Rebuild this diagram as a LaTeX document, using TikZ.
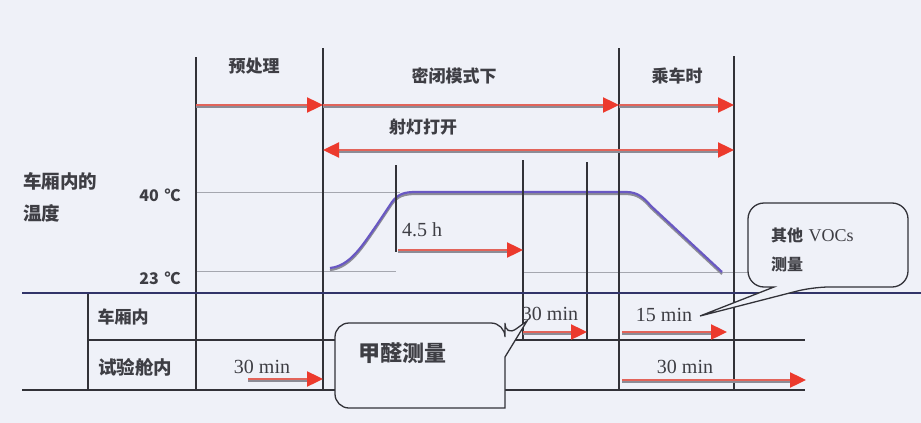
\documentclass[tikz,border=0pt]{standalone}
\usepackage{fontspec}
\newfontfamily\cjk{Noto Sans CJK SC}
\newfontfamily\tnr{Liberation Serif}
\usetikzlibrary{arrows.meta}
\definecolor{bg}{RGB}{239,241,248}
\definecolor{ink}{RGB}{50,50,56}
\definecolor{txt}{RGB}{62,62,68}
\definecolor{thinc}{RGB}{165,167,175}
\definecolor{navy}{RGB}{50,52,105}
\definecolor{arrred}{RGB}{226,100,90}
\definecolor{tipred}{RGB}{236,58,45}
\definecolor{shad}{RGB}{140,140,150}
\definecolor{curvec}{RGB}{105,88,195}
\newcommand\mycurvepath{(330,268) .. controls (350,266) and (362,246) .. (376,226) -- (392,202) .. controls (398,194) and (404,192) .. (416,192) -- (626,192) .. controls (638,192) and (644,198) .. (651,206) -- (722,272)}
\begin{document}
\begin{tikzpicture}[x=1pt,y=-1pt,
  vline/.style={draw=ink,line width=1.2pt},
  hline/.style={draw=ink,line width=1.3pt},
  thinl/.style={draw=thinc,line width=0.7pt},
  lbl/.style={font=\cjk\bfseries\fontsize{17}{20}\selectfont,text=txt,inner sep=0pt},
  slbl/.style={font=\cjk\bfseries\fontsize{18.5}{22}\selectfont,text=txt,inner sep=0pt},
  num/.style={font=\tnr\fontsize{20}{23}\selectfont,text=txt,inner sep=0pt},
  arr/.style={draw=arrred,line width=2.4pt,-{Triangle[length=16pt,width=15pt,color=tipred]}},
  arrsh/.style={draw=shad,line width=2.2pt,shorten >=13pt},
  darr/.style={draw=arrred,line width=2.4pt,{Triangle[length=16pt,width=15pt,color=tipred]}-{Triangle[length=16pt,width=15pt,color=tipred]}},
  darrsh/.style={draw=shad,line width=2.2pt,shorten >=13pt,shorten <=13pt},
  bubble/.style={draw=ink,fill=bg,line width=1.3pt,line join=miter}]
\fill[bg] (0,0) rectangle (921,423);
\useasboundingbox (0,0) rectangle (921,423);

% thin level lines
\coordinate (l40a) at (196,192); \coordinate (l40b) at (400,192);
\coordinate (l23a) at (196,271); \coordinate (l23b) at (396,271);
\coordinate (l23c) at (523,272); \coordinate (l23d) at (748,272);
\draw[thinl] (l40a) -- (l40b);
\draw[thinl] (l23a) -- (l23b);
\draw[thinl] (l23c) -- (l23d);

% temperature curve
\begin{scope}[yshift=-2pt]
\draw[draw=shad,line width=2.2pt] \mycurvepath;
\end{scope}
\draw[draw=curvec,line width=2.2pt] \mycurvepath;

% vertical lines
\foreach \n/\x/\ya/\yb in {v1/196/57/391, v2/323/48/391, v3/396/165/252, v4/523/160/340, v5/587/162/340, v6/619/48/391, v7/734/56/391, v8/88/293/391}{
  \coordinate (\n t) at (\x,\ya); \coordinate (\n b) at (\x,\yb);
  \draw[vline] (\n t) -- (\n b);
}

% horizontal lines
\coordinate (r1a) at (22,293); \coordinate (r1b) at (921,293);
\coordinate (r2a) at (88,340); \coordinate (r2b) at (805,340);
\coordinate (r3a) at (22,390); \coordinate (r3b) at (805,390);
\draw[hline,draw=navy] (r1a) -- (r1b);
\draw[hline] (r2a) -- (r2b);
\draw[hline] (r3a) -- (r3b);

% arrows
\foreach \n/\xa/\xb/\y in {a1/196/323/105, a2/323/619/105, a3/619/734/105, a5/398/523/250, a6/523/587/332, a7/622/727/332, a8/248/323/379, a9/622/806/380}{
  \coordinate (\n s) at (\xa,\y); \coordinate (\n e) at (\xb,\y);
  \begin{scope}[transform canvas={yshift=-2pt}]\draw[arrsh] (\n s) -- (\n e);\end{scope}
  \draw[arr] (\n s) -- (\n e);
}
\coordinate (a4s) at (323,150); \coordinate (a4e) at (734,150);
\begin{scope}[transform canvas={yshift=-2pt}]\draw[darrsh] (a4s) -- (a4e);\end{scope}
\draw[darr] (a4s) -- (a4e);

% callouts
\coordinate (p1) at (527,321);
\draw[bubble] (p1) -- (505,357) -- (505,408) [rounded corners=14pt] -- (335,408) -- (335,323) -- (505,323) -- (505,337) [sharp corners] -- cycle;
\node[font=\cjk\bfseries\fontsize{22}{25}\selectfont,text=txt,inner sep=0pt] (b1) at (402,353) {甲醛测量};

\coordinate (p2) at (700,316);
\draw[bubble] (p2) -- (774,287) [rounded corners=16pt] -- (748,287) -- (748,203) -- (908,203) -- (908,287) -- (813,287) [sharp corners] -- cycle;
\node[font=\cjk\bfseries\fontsize{16}{19}\selectfont,text=txt,inner sep=0pt,anchor=west] (b2) at (771,235) {其他\,\,\tnr\mdseries\fontsize{18}{20}\selectfont VOCs};
\node[font=\cjk\bfseries\fontsize{16}{19}\selectfont,text=txt,inner sep=0pt,anchor=west] (b3) at (771,264) {测量};

% labels
\node[lbl] (t1) at (254,66) {预处理};
\node[lbl] (t2) at (454,76) {密闭模式下};
\node[lbl] (t3) at (677,76) {乘车时};
\node[lbl] (t4) at (423,127) {射灯打开};
\node[slbl,anchor=west] (t5) at (23,181) {车厢内的};
\node[slbl,anchor=west] (t6) at (23,213) {温度};
\node[lbl,font=\cjk\bfseries\fontsize{16}{19}\selectfont] (t7) at (160,195) {40\hspace{6pt}℃};
\node[lbl,font=\cjk\bfseries\fontsize{16}{19}\selectfont] (t8) at (160,278) {23\hspace{6pt}℃};
\node[lbl] (t9) at (123,317) {车厢内};
\node[slbl] (t10) at (135,367) {试验舱内};

\node[num] (n1) at (262,367) {30 min};
\node[num] (n2) at (422,230) {4.5 h};
\node[num] (n3) at (550,314) {30 min};
\node[num] (n4) at (664,315) {15 min};
\node[num] (n5) at (685,367) {30 min};
\end{tikzpicture}
\end{document}
